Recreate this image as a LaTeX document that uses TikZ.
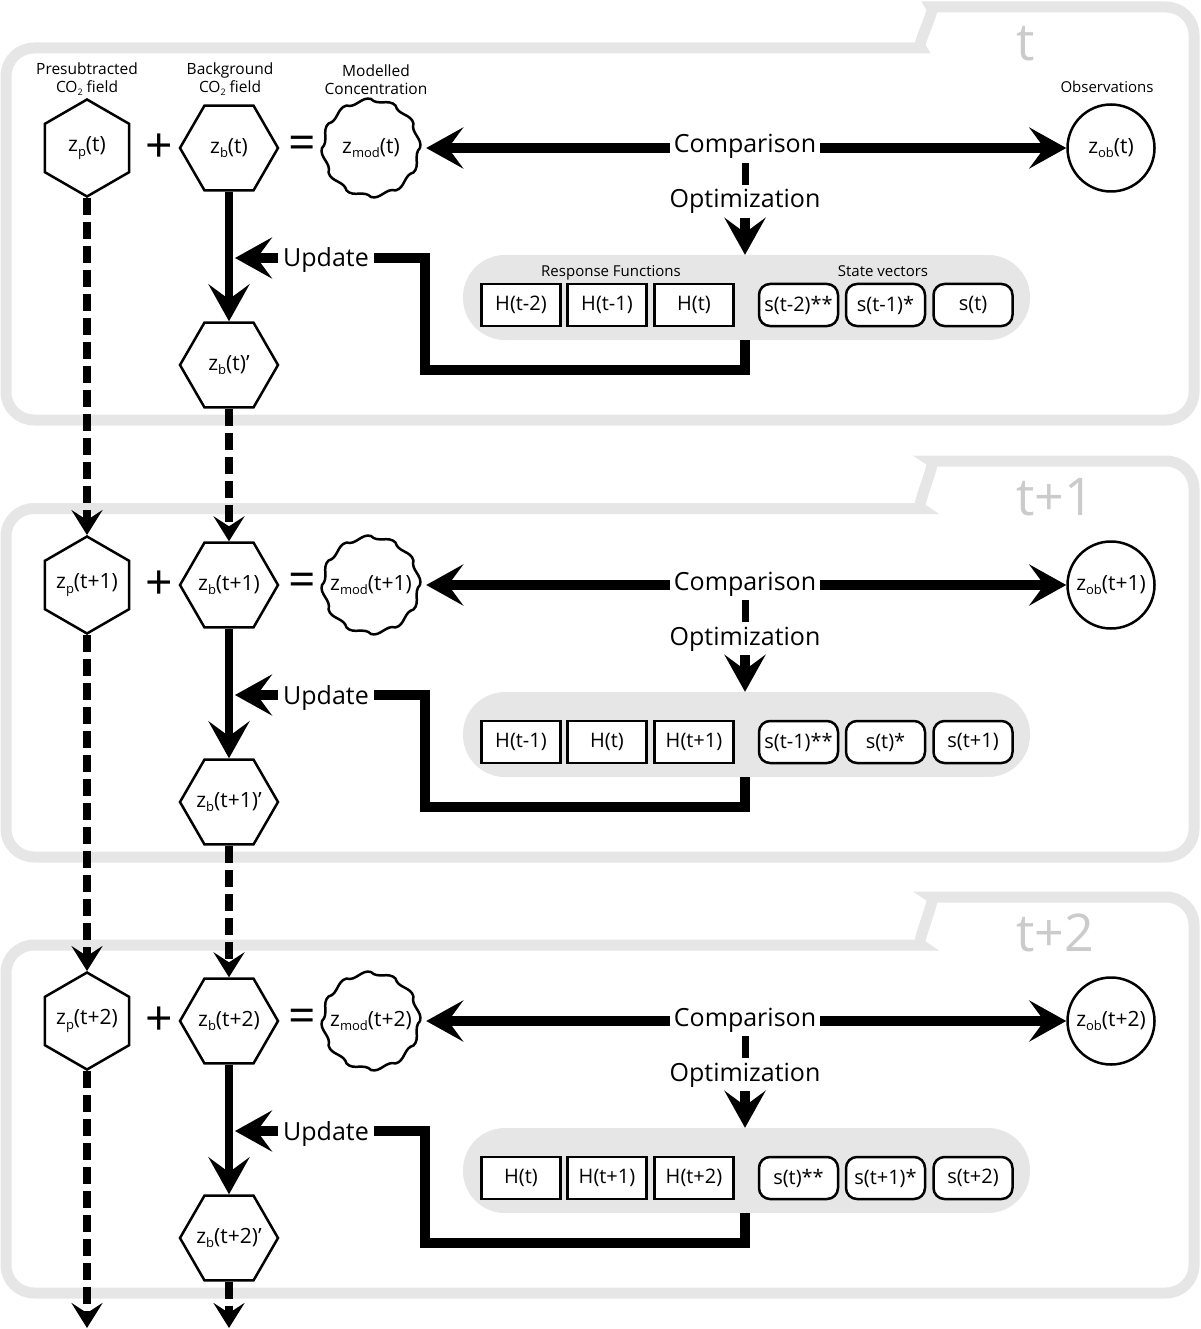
\documentclass[tikz,border=0pt]{standalone}
\usepackage{fontspec}
\setmainfont{Open Sans}
\usetikzlibrary{arrows.meta,shapes.geometric}
\definecolor{band}{HTML}{E6E6E6}
\definecolor{tabtxt}{HTML}{CBCBCB}
\newcommand{\zsub}[1]{\raisebox{-0.4ex}{\fontsize{13}{13}\selectfont #1}}
\newcommand{\zsmall}[1]{\raisebox{-0.35ex}{\fontsize{9}{9}\selectfont #1}}
\newcommand{\zbox}[1]{\makebox[0pt]{#1}}
\begin{document}
\begin{tikzpicture}[x=1pt,y=-1pt,
  panelline/.style={draw=band,line width=11pt,rounded corners=28pt},
  hexh/.style={regular polygon,regular polygon sides=6,shape border rotate=0,minimum size=98pt,inner sep=0pt,draw,line width=2.5pt,fill=white,font=\fontsize{21}{21}\selectfont},
  hexv/.style={hexh,shape border rotate=90,minimum size=97pt},
  wavy/.style={circle,minimum size=98pt,inner sep=0pt,font=\fontsize{21}{21}\selectfont},
  obs/.style={circle,draw,line width=2.5pt,minimum size=87pt,inner sep=0pt,font=\fontsize{21}{21}\selectfont},
  bigtxt/.style={inner sep=4pt,anchor=base,font=\fontsize{25}{25}\selectfont},
  lbl/.style={inner sep=0pt,align=center,font=\fontsize{15.5}{18}\selectfont},
  smalllbl/.style={inner sep=0pt,anchor=base,font=\fontsize{15}{15}\selectfont},
  tablabel/.style={inner sep=0pt,anchor=base west,text=tabtxt,font=\fontsize{52}{52}\selectfont},
  opsym/.style={inner sep=0pt,font=\fontsize{48}{48}\selectfont},
  rfbox/.style={draw,fill=white,line width=2.5pt,minimum width=79pt,minimum height=42pt,inner sep=0pt,font=\fontsize{20}{20}\selectfont},
  svbox/.style={rfbox,rounded corners=11pt},
  graybox/.style={fill=band,rounded corners=42pt,minimum width=567pt,minimum height=85pt,inner sep=0pt},
  bigarrow/.style={line width=10pt,-{Stealth[length=37pt,width=41pt,inset=15pt]}},
  thickline/.style={line width=10pt,line join=miter},
  dasharrow/.style={line width=8pt,dash pattern=on 17pt off 7pt,-{Stealth[length=25pt,width=31pt,inset=10pt]}}
]
\useasboundingbox (0,0) rectangle (1200,1329);

\foreach \i/\dy/\top/\tab/\T/\Ha/\Hb/\Hc/\Sa/\Sb/\Sc in
  {1/0/48/7/t/t-2/t-1/t/t-2/t-1/t,
   2/-437/71.5/24/t+1/t-1/t/t+1/t-1/t/t+1,
   3/-873/72/24/t+2/t/t+1/t+2/t/t+1/t+2}{
\begin{scope}[yshift=\dy pt]
  % panel outline
  \draw[panelline] (6,240) |- (893,\top) .. controls (915,\top) and (937,\tab) .. (959,\tab) -| (1194,240) |- (6,420) -- cycle;
  \node[tablabel] (tab\i) at (1016,\tab+54) {\T};
  % gray box
  \node[graybox] (gb\i) at (746.5,297.5) {};
  % nodes
  \node[hexv] (zp\i) at (87,148) {\zbox{z\zsub{p}(\T)}};
  \node[opsym] (plus\i) at (159,148) {+};
  \node[hexh] (zb\i) at (229,148) {\zbox{z\zsub{b}(\T)}};
  \node[opsym] (eq\i) at (302,148) {=};
  \node[wavy] (zm\i) at (371,148) {z\zsub{mod}(\T)};
  \draw[line width=2.5pt,line join=miter] ([shift={(0:49)}]zm\i.center)
     \foreach \a in {30,60,...,360}{ to[out=-32,in=148,relative] ([shift={(\a:49)}]zm\i.center)};
  \node[obs] (zo\i) at (1111,148) {z\zsub{ob}(\T)};
  \node[hexh] (zbp\i) at (229,365) {\zbox{z\zsub{b}(\T)’}};
  \node[bigtxt] (comp\i) at (745,153) {Comparison};
  \node[bigtxt] (opt\i) at (745,208) {Optimization};
  \node[bigtxt,inner sep=5pt] (upd\i) at (326,267) {Update};
  \node[rfbox] (ha\i) at (521,305) {H(\Ha)};
  \node[rfbox] (hb\i) at (607,305) {H(\Hb)};
  \node[rfbox] (hc\i) at (694,305) {H(\Hc)};
  \node[svbox] (sa\i) at (798.5,305) {s(\Sa)**};
  \node[svbox] (sb\i) at (885.5,305) {s(\Sb)*};
  \node[svbox] (sc\i) at (973,305) {s(\Sc)};
  \coordinate (uj\i) at (235,258);
  % connectors
  \draw[bigarrow] (comp\i.west |- zm\i.center) -- ([xshift=6pt]zm\i.east);
  \draw[bigarrow] (comp\i.east |- zm\i.center) -- (zo\i.west |- zm\i.center);
  \draw[line width=7pt] (comp\i.south) -- (opt\i.north);
  \draw[bigarrow] (opt\i.south) -- (opt\i.south |- gb\i.north);
  \draw[thickline] (opt\i.south |- gb\i.south) |- (425,370) |- (upd\i.east |- uj\i);
  \draw[bigarrow,line width=8pt] (zb\i.south) -- (zbp\i.north);
  \draw[bigarrow] (upd\i.west |- uj\i) -- (uj\i);
\end{scope}
}

% labels of the first panel
\node[lbl] (lp) at (87,79) {Presubtracted\\CO\zsmall{2} field};
\node[lbl] (lb) at (230,79) {Background\\CO\zsmall{2} field};
\node[lbl] (lm) at (376,80) {Modelled\\Concentration};
\node[smalllbl] (lo) at (1107,93) {Observations};
\node[smalllbl] (lrf) at (611,277) {Response Functions};
\node[smalllbl] (lsv) at (883,277) {State vectors};

% dashed links between panels
\coordinate (endp) at (87,1328);
\coordinate (endb) at (229,1328);
\draw[dasharrow] (zp1.south) -- (zp2.north);
\draw[dasharrow] (zp2.south) -- (zp3.north);
\draw[dasharrow] (zp3.south) -- (endp);
\draw[dasharrow] (zbp1.south) -- (zb2.north);
\draw[dasharrow] (zbp2.south) -- (zb3.north);
\draw[dasharrow] (zbp3.south) -- (endb);
\end{tikzpicture}
\end{document}
